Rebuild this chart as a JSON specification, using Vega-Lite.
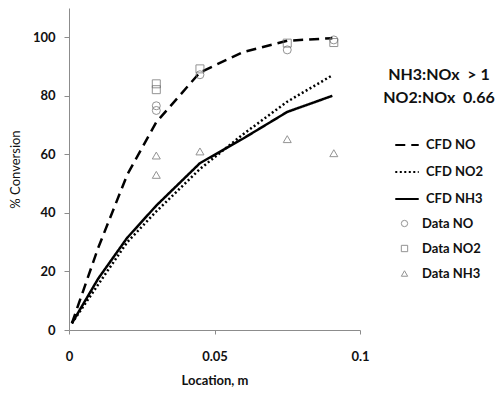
{
  "$schema": "https://vega.github.io/schema/vega-lite/v6.json",
  "width": 291,
  "height": 322,
  "autosize": {"type": "none"},
  "padding": {"left": 69, "top": 8, "right": 138, "bottom": 64},
  "background": "white",
  "config": {
    "view": {"stroke": null},
    "font": "Lato",
    "axis": {"grid": false, "domainColor": "#8c8c8c", "tickColor": "#8c8c8c", "labelFont": "Lato", "titleFont": "Lato", "labelColor": "#111", "titleColor": "#111"}
  },
  "datasets": {
    "cfd": [
      {"loc": 0.001, "val": 2.3, "series": "CFD NO"},
      {"loc": 0.01, "val": 28, "series": "CFD NO"},
      {"loc": 0.02, "val": 53, "series": "CFD NO"},
      {"loc": 0.03, "val": 71, "series": "CFD NO"},
      {"loc": 0.045, "val": 88, "series": "CFD NO"},
      {"loc": 0.06, "val": 95, "series": "CFD NO"},
      {"loc": 0.075, "val": 98.8, "series": "CFD NO"},
      {"loc": 0.0905, "val": 99.7, "series": "CFD NO"},
      {"loc": 0.001, "val": 2.3, "series": "CFD NO2"},
      {"loc": 0.01, "val": 15.5, "series": "CFD NO2"},
      {"loc": 0.02, "val": 30, "series": "CFD NO2"},
      {"loc": 0.03, "val": 40.5, "series": "CFD NO2"},
      {"loc": 0.045, "val": 55, "series": "CFD NO2"},
      {"loc": 0.06, "val": 67, "series": "CFD NO2"},
      {"loc": 0.075, "val": 78, "series": "CFD NO2"},
      {"loc": 0.0905, "val": 87, "series": "CFD NO2"},
      {"loc": 0.001, "val": 2.3, "series": "CFD NH3"},
      {"loc": 0.01, "val": 17.5, "series": "CFD NH3"},
      {"loc": 0.02, "val": 31.5, "series": "CFD NH3"},
      {"loc": 0.03, "val": 42.5, "series": "CFD NH3"},
      {"loc": 0.045, "val": 57, "series": "CFD NH3"},
      {"loc": 0.06, "val": 65.5, "series": "CFD NH3"},
      {"loc": 0.075, "val": 74.5, "series": "CFD NH3"},
      {"loc": 0.0905, "val": 80, "series": "CFD NH3"}
    ],
    "meas": [
      {"loc": 0.03, "val": 76.6, "series": "Data NO"},
      {"loc": 0.03, "val": 75.0, "series": "Data NO"},
      {"loc": 0.045, "val": 87.2, "series": "Data NO"},
      {"loc": 0.075, "val": 95.7, "series": "Data NO"},
      {"loc": 0.091, "val": 99.1, "series": "Data NO"},
      {"loc": 0.03, "val": 84.1, "series": "Data NO2"},
      {"loc": 0.03, "val": 82.1, "series": "Data NO2"},
      {"loc": 0.045, "val": 89.2, "series": "Data NO2"},
      {"loc": 0.075, "val": 98.0, "series": "Data NO2"},
      {"loc": 0.091, "val": 98.2, "series": "Data NO2"},
      {"loc": 0.03, "val": 59.6, "series": "Data NH3"},
      {"loc": 0.03, "val": 53.0, "series": "Data NH3"},
      {"loc": 0.045, "val": 61.0, "series": "Data NH3"},
      {"loc": 0.075, "val": 65.2, "series": "Data NH3"},
      {"loc": 0.091, "val": 60.4, "series": "Data NH3"}
    ]
  },
  "encoding": {
    "x": {
      "field": "loc", "type": "quantitative",
      "scale": {"domain": [0, 0.1], "nice": false, "zero": false},
      "axis": {"values": [0, 0.05, 0.1], "format": "~g", "title": "Location, m", "labelFontSize": 13, "labelFontWeight": "bold", "titleFontSize": 13, "titleFontWeight": "bold", "tickSize": 4, "labelPadding": 16, "titlePadding": 11, "labelFlush": false}
    },
    "y": {
      "field": "val", "type": "quantitative",
      "scale": {"domain": [0, 110], "nice": false},
      "axis": {"values": [0, 20, 40, 60, 80, 100], "title": "% Conversion", "labelFontSize": 13, "labelFontWeight": "bold", "titleFontSize": 13, "titleFontWeight": "normal", "tickSize": 5, "labelPadding": 9, "titlePadding": 10}
    }
  },
  "layer": [
    {
      "data": {"name": "cfd"},
      "mark": {"type": "line", "color": "black", "strokeWidth": 2.5, "strokeCap": "butt"},
      "encoding": {
        "detail": {"field": "series"},
        "strokeDash": {
          "field": "series", "type": "nominal",
          "scale": {"domain": ["CFD NO", "CFD NO2", "CFD NH3"], "range": [[10, 6], [2, 2.5], [1, 0]]},
          "legend": {
            "orient": "none", "legendX": 314, "legendY": 59,
            "title": ["NH3:NOx\u00a0\u00a0> 1", "NO2:NOx\u00a0\u00a00.66"],
            "titleFontSize": 16, "titleFontWeight": "bold", "titleLineHeight": 23, "titleColor": "#111",
            "titleAnchor": "middle", "titleAlign": "center", "titlePadding": 26,
            "labelFontSize": 13, "labelFontWeight": "bold", "labelColor": "#111", "labelOffset": 6,
            "symbolType": "stroke", "symbolSize": 550, "symbolStrokeColor": "black", "symbolStrokeWidth": 2, "rowPadding": 7
          }
        }
      }
    },
    {
      "data": {"name": "meas"},
      "mark": {"type": "point", "filled": false, "color": "#666666", "strokeWidth": 1, "size": 64},
      "encoding": {
        "shape": {
          "field": "series", "type": "nominal",
          "scale": {"domain": ["Data NO", "Data NO2", "Data NH3"], "range": ["circle", "square", "triangle-up"]},
          "legend": {
            "orient": "none", "legendX": 329, "legendY": 209, "title": null,
            "labelFontSize": 13, "labelFontWeight": "bold", "labelColor": "#111", "labelOffset": 11,
            "symbolSize": 40, "symbolStrokeColor": "#666666", "symbolStrokeWidth": 1, "symbolFillColor": "transparent", "rowPadding": 11
          }
        }
      }
    }
  ]
}
